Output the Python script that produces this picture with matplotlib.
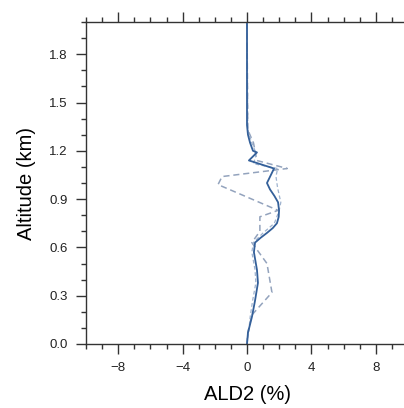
import matplotlib
matplotlib.use("Agg")
import matplotlib.pyplot as plt
from matplotlib.ticker import MultipleLocator

plt.rcParams['font.family'] = ['Liberation Sans', 'DejaVu Sans']

# altitude (km) and ALD2 change (%) for each profile
alt_main = [0.0, 0.07, 0.17, 0.27, 0.38, 0.46, 0.57, 0.63, 0.66, 0.69, 0.72,
            0.75, 0.79, 0.83, 0.88, 0.92, 0.96, 1.00, 1.09, 1.14, 1.19, 1.20,
            1.25, 1.30, 1.36, 2.0]
ald2_main = [0.0, 0.06, 0.31, 0.5, 0.68, 0.62, 0.43, 0.5, 0.85, 1.24, 1.6,
             1.86, 1.97, 1.99, 1.93, 1.7, 1.43, 1.24, 1.68, 0.12, 0.62, 0.37,
             0.19, 0.06, 0.0, 0.0]

alt_near = [0.0, 0.07, 0.17, 0.27, 0.38, 0.46, 0.57, 0.63, 0.69, 0.75, 0.83,
            0.88, 0.97, 1.04, 1.09, 1.12, 1.17, 1.20, 1.25, 1.33, 2.0]
ald2_near = [0.0, 0.1, 0.2, 0.35, 0.55, 0.5, 0.3, 0.4, 1.0, 1.7, 2.0,
             2.1, 1.9, 1.8, 1.9, 0.4, 0.55, 0.5, 0.3, 0.05, 0.0]

alt_dash = [0.0, 0.07, 0.18, 0.32, 0.50, 0.63, 0.70, 0.79, 0.83, 0.99, 1.04,
            1.09, 1.14, 1.20, 1.25, 1.33, 2.0]
ald2_dash = [0.0, 0.05, 0.3, 1.55, 1.24, 0.3, 0.8, 0.8, 1.93, -1.8, -1.55,
             2.5, 0.6, 0.5, 0.4, 0.05, 0.0]

fig = plt.figure(figsize=(4.04, 4.08), dpi=100)
ax = fig.add_axes([86 / 404, 64 / 408, 322 / 404, 322 / 408])

ax.plot(ald2_dash, alt_dash, color='#93a3bd', lw=1.1, ls=(0, (4, 2.5)))
ax.plot(ald2_near, alt_near, color='#9fb3cf', lw=0.9, ls=(0, (3, 2)))
ax.plot(ald2_main, alt_main, color='#34609a', lw=1.3)

ax.set_xlim(-10, 10)
ax.set_ylim(0, 2.0)
ax.xaxis.set_minor_locator(MultipleLocator(1))
ax.yaxis.set_minor_locator(MultipleLocator(0.1))
ax.set_xticks([-8, -4, 0, 4, 8])
ax.set_yticks([0.0, 0.3, 0.6, 0.9, 1.2, 1.5, 1.8])
ax.set_yticklabels(['0.0', '0.3', '0.6', '0.9', '1.2', '1.5', '1.8'])

for s in ax.spines.values():
    s.set_color('#333333')
    s.set_linewidth(1.0)
ax.tick_params(which='both', direction='out', color='#333333', width=1.0,
               top=True, labelsize=9.5, labelcolor='#222222')
ax.tick_params(which='major', length=7, pad=6)
ax.tick_params(which='minor', length=3.5)

ax.set_xlabel('ALD2 (%)', fontsize=14.5, labelpad=8)
ax.set_ylabel('Altitude (km)', fontsize=14.5, labelpad=10)

fig.savefig('out.png', dpi=100)
